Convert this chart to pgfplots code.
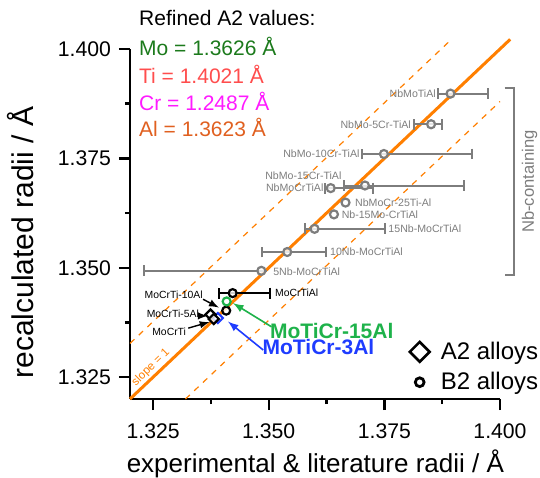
\documentclass[border=0pt]{standalone}
\usepackage{fontspec}
\setmainfont{Liberation Sans}
\usepackage{pgfplots}
\usepackage{pgfplotstable}
\pgfplotsset{compat=1.18}
\definecolor{nbgray}{RGB}{125,125,125}
\definecolor{slopeor}{RGB}{255,127,0}
\definecolor{mogreen}{RGB}{28,122,28}
\definecolor{tired}{RGB}{255,77,77}
\definecolor{crmag}{RGB}{255,26,255}
\definecolor{alor}{RGB}{224,96,32}
\definecolor{lblgreen}{RGB}{30,178,74}
\definecolor{lblblue}{RGB}{30,60,255}

% x y minus plus
\pgfplotstableread{
x       y       em      ep
1.3893  1.3898  0.0026  0.0082
1.3851  1.3828  0.0036  0.0024
1.3749  1.3760  0.0048  0.0191
1.3708  1.3688  0.0045  0.0214
1.3634  1.3682  0.0012  0.0091
1.3599  1.3589  0.0021  0.0152
1.3540  1.3536  0.0054  0.0083
1.3484  1.3493  0.0253  0.0000
}\nbwitherr
\pgfplotstableread{
x       y
1.3666  1.3649
1.3641  1.3622
}\nbnoerr
\pgfplotstableread{
x       y       em      ep
1.3422  1.3442  0.0029  0.0080
}\mocrtial
\pgfplotstableread{
x       y
1.3408  1.3402
}\mocrtitenal
\pgfplotstableread{
x       y
1.3409  1.3423
}\motifteen
\pgfplotstableread{
x       y
1.3390  1.3385
}\mothree
\pgfplotstableread{
x       y
1.3374  1.3393
1.3381  1.3383
}\atwoblack

\begin{document}
\begin{tikzpicture}
\useasboundingbox (-65pt,-39pt) rectangle (205pt,199.5pt);
\begin{axis}[
  scale only axis, width=185pt, height=175pt,
  xmin=1.32, xmax=1.40, ymin=1.32, ymax=1.40,
  axis lines=left,
  axis line style={line width=1.2pt, -},
  xtick align=outside, ytick align=outside,
  xtick pos=bottom, ytick pos=left,
  major tick length=5.5pt, minor tick length=2.5pt,
  every tick/.append style={line width=1.2pt, black},
  xtick={1.325,1.35,1.375,1.4}, ytick={1.325,1.35,1.375,1.4},
  minor xtick={1.3375,1.3625,1.3875}, minor ytick={1.3375,1.3625,1.3875},
  scaled ticks=false,
  tick label style={font=\fontsize{10.6}{12}\selectfont},
  xticklabel style={yshift=-3.5pt},
  yticklabel style={xshift=-0.5pt},
  xticklabel={\pgfmathprintnumber[fixed, fixed zerofill, precision=3, assume math mode=true]{\tick}},
  yticklabel={\pgfmathprintnumber[fixed, fixed zerofill, precision=3, assume math mode=true]{\tick}},
  clip=false,
  xlabel={experimental \& literature radii / Å},
  ylabel={recalculated radii / Å},
  every axis x label/.style={at={(axis description cs:0.501,-0.186)}, anchor=center, inner sep=0pt, font=\fontsize{13}{15}\selectfont},
  every axis y label/.style={at={(axis description cs:-0.295,0.447)}, rotate=90, anchor=center, inner sep=0pt, font=\fontsize{15}{17}\selectfont},
  legend style={draw=none, fill=none, font=\fontsize{12}{14}\selectfont, at={(axis cs:1.4092,1.3205)}, anchor=south east, row sep=1pt, inner sep=0pt},
  legend cell align=left,
  legend image code/.code={\path[draw=none, fill=none] (-0.25cm,0) -- (0.3cm,0); \draw[#1] plot coordinates {(0cm,0cm)};},
]
% reference lines
\addplot[slopeor, line width=1.5pt, forget plot] coordinates {(1.32,1.32) (1.4022,1.4022)};
\addplot[slopeor, line width=0.6pt, dash pattern=on 3pt off 3pt, forget plot] coordinates {(1.32,1.3327) (1.3895,1.4022)};
\addplot[slopeor, line width=0.6pt, dash pattern=on 3pt off 3pt, forget plot] coordinates {(1.332,1.32) (1.40,1.388)};

% Nb-containing with error bars
\addplot[only marks, mark=*, mark size=2pt, nbgray, forget plot,
  mark options={line width=1.1pt, draw=nbgray, fill=white, fill opacity=0.8},
  error bars/.cd, x dir=both, x explicit,
  error bar style={line width=1pt, nbgray},
  error mark options={rotate=90, line width=1pt, mark size=2.7pt, nbgray}]
  table[x=x, y=y, x error plus=ep, x error minus=em] {\nbwitherr};
\addplot[only marks, mark=*, mark size=2pt, nbgray, forget plot,
  mark options={line width=1.1pt, draw=nbgray, fill=white, fill opacity=0.8}]
  table[x=x, y=y] {\nbnoerr};

% MoCrTiAl (black, B2) with error bar
\addplot[only marks, mark=*, mark size=2pt, black, forget plot,
  mark options={line width=1.1pt, draw=black, fill=white, fill opacity=0.8},
  error bars/.cd, x dir=both, x explicit,
  error bar style={line width=1pt, black},
  error mark options={rotate=90, line width=1pt, mark size=2.7pt, black}]
  table[x=x, y=y, x error plus=ep, x error minus=em] {\mocrtial};
\addplot[only marks, mark=*, mark size=2pt, black, forget plot,
  mark options={line width=1.1pt, draw=black, fill=white, fill opacity=0.8}]
  table[x=x, y=y] {\mocrtitenal};
% MoTiCr-3Al (blue diamond)
\addplot[only marks, mark=square*, mark size=1.8pt, forget plot,
  mark options={rotate=45, line width=1pt, draw=lblblue, fill=white}]
  table[x=x, y=y] {\mothree};
% A2 black diamonds
\addplot[only marks, mark=square*, mark size=1.8pt, forget plot,
  mark options={rotate=45, line width=1.1pt, draw=black, fill=white, fill opacity=0.8}]
  table[x=x, y=y] {\atwoblack};
% MoTiCr-15Al (green circle)
\addplot[only marks, mark=*, mark size=2pt, forget plot,
  mark options={line width=1.1pt, draw=lblgreen, fill=white, fill opacity=0.8}]
  table[x=x, y=y] {\motifteen};

% legend
\addlegendimage{only marks, mark=square, mark size=3.5pt, mark options={rotate=45, line width=1.3pt, black}}
\addlegendentry{A2 alloys}
\addlegendimage{only marks, mark=o, mark size=2.2pt, mark options={line width=1.4pt, black}}
\addlegendentry{B2 alloys}

% axis ticks (outward)
\draw[line width=1.2pt] (axis cs:1.325,1.32) -- ([yshift=-5.5pt]axis cs:1.325,1.32);
\draw[line width=1.2pt] (axis cs:1.350,1.32) -- ([yshift=-5.5pt]axis cs:1.350,1.32);
\draw[line width=1.2pt] (axis cs:1.375,1.32) -- ([yshift=-5.5pt]axis cs:1.375,1.32);
\draw[line width=1.2pt] (axis cs:1.400,1.32) -- ([yshift=-5.5pt]axis cs:1.400,1.32);
\draw[line width=1.2pt] (axis cs:1.3375,1.32) -- ([yshift=-2.5pt]axis cs:1.3375,1.32);
\draw[line width=1.2pt] (axis cs:1.3625,1.32) -- ([yshift=-2.5pt]axis cs:1.3625,1.32);
\draw[line width=1.2pt] (axis cs:1.3875,1.32) -- ([yshift=-2.5pt]axis cs:1.3875,1.32);
\draw[line width=1.2pt] (axis cs:1.32,1.325) -- ([xshift=-5.5pt]axis cs:1.32,1.325);
\draw[line width=1.2pt] (axis cs:1.32,1.350) -- ([xshift=-5.5pt]axis cs:1.32,1.350);
\draw[line width=1.2pt] (axis cs:1.32,1.375) -- ([xshift=-5.5pt]axis cs:1.32,1.375);
\draw[line width=1.2pt] (axis cs:1.32,1.400) -- ([xshift=-5.5pt]axis cs:1.32,1.400);
\draw[line width=1.2pt] (axis cs:1.32,1.3375) -- ([xshift=-2.5pt]axis cs:1.32,1.3375);
\draw[line width=1.2pt] (axis cs:1.32,1.3625) -- ([xshift=-2.5pt]axis cs:1.32,1.3625);
\draw[line width=1.2pt] (axis cs:1.32,1.3875) -- ([xshift=-2.5pt]axis cs:1.32,1.3875);

% gray labels
\begin{scope}[every node/.style={font=\fontsize{5.3}{6}\selectfont, text=nbgray, inner sep=0pt}]
\node[anchor=east] at (axis cs:1.3862,1.3898) {NbMoTiAl};
\node[anchor=east] at (axis cs:1.3808,1.3828) {NbMo-5Cr-TiAl};
\node[anchor=east] at (axis cs:1.3697,1.3760) {NbMo-10Cr-TiAl};
\node[anchor=east] at (axis cs:1.3658,1.3710) {NbMo-15Cr-TiAl};
\node[anchor=east] at (axis cs:1.3619,1.3683) {NbMoCrTiAl};
\node[anchor=west] at (axis cs:1.3686,1.3648) {NbMoCr-25Ti-Al};
\node[anchor=west] at (axis cs:1.3657,1.3621) {Nb-15Mo-CrTiAl};
\node[anchor=west] at (axis cs:1.3758,1.3589) {15Nb-MoCrTiAl};
\node[anchor=west] at (axis cs:1.3632,1.3536) {10Nb-MoCrTiAl};
\node[anchor=west] at (axis cs:1.3509,1.3491) {5Nb-MoCrTiAl};
\end{scope}
\begin{scope}[every node/.style={font=\fontsize{5.2}{6}\selectfont, text=black, inner sep=0pt}]
\node[anchor=west] at (axis cs:1.3513,1.3442) {MoCrTiAl};
\node[anchor=east] at (axis cs:1.3358,1.3438) {MoCrTi-10Al};
\node[anchor=east] at (axis cs:1.3350,1.3394) {MoCrTi-5Al};
\node[anchor=east] at (axis cs:1.3322,1.3354) {MoCrTi};
\end{scope}
\draw[-latex, line width=0.7pt] (axis cs:1.3358,1.3428) -- (axis cs:1.3392,1.3409);
\draw[-latex, line width=0.7pt] (axis cs:1.3351,1.3390) -- (axis cs:1.3368,1.3390);
\draw[-latex, line width=0.7pt] (axis cs:1.3326,1.3362) -- (axis cs:1.3372,1.3376);
\draw[-latex, line width=0.8pt, lblgreen] (axis cs:1.3506,1.3365) -- (axis cs:1.3423,1.3419);
\draw[-latex, line width=0.8pt, lblblue] (axis cs:1.3488,1.3312) -- (axis cs:1.3412,1.3377);
\node[anchor=west, inner sep=0pt, text=lblgreen, font=\bfseries\fontsize{10.5}{12}\selectfont] at (axis cs:1.3502,1.3356) {MoTiCr-15Al};
\node[anchor=west, inner sep=0pt, text=lblblue, font=\bfseries\fontsize{10.5}{12}\selectfont] at (axis cs:1.3486,1.3318) {MoTiCr-3Al};

% slope label
\node[rotate=44, text=slopeor, inner sep=0pt, font=\fontsize{5.8}{7}\selectfont] at (axis cs:1.3245,1.3272) {slope = 1};

% Refined values
\begin{scope}[every node/.style={anchor=west, inner sep=0pt, font=\fontsize{10.5}{12}\selectfont}]
\node[text=black] at (axis cs:1.3219,1.4071) {Refined A2 values:};
\node[text=mogreen] at (axis cs:1.3219,1.4006) {Mo = 1.3626 Å};
\node[text=tired] at (axis cs:1.3219,1.3941) {Ti = 1.4021 Å};
\node[text=crmag] at (axis cs:1.3219,1.3880) {Cr = 1.2487 Å};
\node[text=alor] at (axis cs:1.3219,1.3820) {Al = 1.3623 Å};
\end{scope}

% Nb-containing bracket
\draw[nbgray, line width=1pt] (axis cs:1.4010,1.3911) -- (axis cs:1.4031,1.3911) -- (axis cs:1.4031,1.3484) -- (axis cs:1.4010,1.3484);
\node[rotate=90, text=nbgray, inner sep=0pt, font=\fontsize{8.3}{10}\selectfont] at (axis cs:1.4064,1.3697) {Nb-containing};
\end{axis}
\end{tikzpicture}
\end{document}
